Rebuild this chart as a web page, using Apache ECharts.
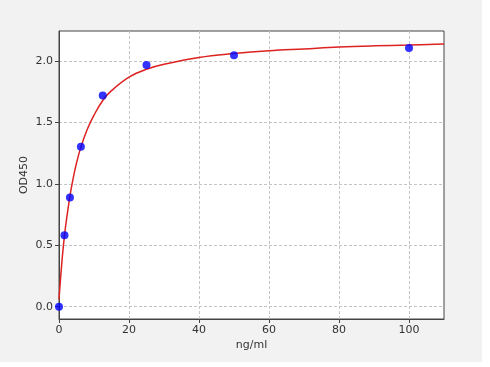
<!DOCTYPE html>
<html>
<head>
<meta charset="utf-8">
<script src="https://cdn.jsdelivr.net/npm/echarts@6/dist/echarts.min.js"></script>
<style>
html,body{margin:0;padding:0;background:#fff;}
#c{width:490px;height:367px;}
</style>
</head>
<body>
<div id="c"></div>
<script>
// measured standards
var concentrations = [0, 1.5625, 3.125, 6.25, 12.5, 25, 50, 100];
var odValues = [0.00, 0.583, 0.889, 1.303, 1.721, 1.97, 2.049, 2.108];
// fitted curve
var curveX = [0, 0.5, 1, 1.5625, 2, 3.125, 4, 5, 6.25, 8, 10, 12.5, 15, 20, 25, 30, 40, 50, 60, 70, 80, 90, 100, 110];
var curveY = [0.06, 0.25, 0.42, 0.58, 0.68, 0.90, 1.04, 1.17, 1.30, 1.44, 1.56, 1.68, 1.76, 1.87, 1.935, 1.975, 2.03, 2.062, 2.085, 2.10, 2.115, 2.125, 2.132, 2.14];
var xTicks = [0, 20, 40, 60, 80, 100];
var yTicks = [0.0, 0.5, 1.0, 1.5, 2.0];
var xName = 'ng/ml';
var yName = 'OD450';

var chart = echarts.init(document.getElementById('c'), null, {renderer: 'canvas'});
var font = 'DejaVu Sans';
var gridColor = '#c4c4c4';
var axisColor = '#444';
chart.setOption({
  animation: false,
  backgroundColor: '#ffffff',
  graphic: [{
    type: 'rect', left: 0, top: 0, z: -10,
    shape: {width: 482, height: 362},
    style: {fill: '#f2f2f2'}
  }],
  grid: {left: 59, right: 46, top: 31, bottom: 48, show: true, backgroundColor: '#ffffff', borderColor: axisColor, borderWidth: 1},
  xAxis: {
    type: 'value', min: 0, max: 110,
    name: xName, nameLocation: 'middle', nameGap: 21, nameMoveOverlap: false,
    nameTextStyle: {fontFamily: font, fontSize: 11, color: '#333'},
    axisLine: {show: true, onZero: false, lineStyle: {color: axisColor}},
    axisTick: {show: true, length: 4, customValues: xTicks, lineStyle: {color: axisColor}},
    axisLabel: {customValues: xTicks, fontFamily: font, fontSize: 11, color: '#333', margin: 6,
      formatter: function(v){return String(v);}},
    splitLine: {show: true, lineStyle: {color: gridColor, type: [3, 2], width: 1}}
  },
  yAxis: {
    type: 'value', min: -0.1, max: 2.246,
    name: yName, nameLocation: 'middle', nameGap: 29, nameRotate: 90, nameMoveOverlap: false,
    nameTextStyle: {fontFamily: font, fontSize: 11, color: '#333'},
    axisLine: {show: true, onZero: false, lineStyle: {color: axisColor}},
    axisTick: {show: true, length: 4, customValues: yTicks, lineStyle: {color: axisColor}},
    axisLabel: {customValues: yTicks, fontFamily: font, fontSize: 11, color: '#333', margin: 6,
      formatter: function(v){return v.toFixed(1);}},
    splitLine: {show: true, lineStyle: {color: gridColor, type: [3, 2], width: 1}}
  },
  series: [{
    type: 'line',
    data: curveX.map(function(x, i){return [x, curveY[i]];}),
    smooth: 0.4,
    showSymbol: false,
    lineStyle: {color: '#dd2222', width: 1.5},
    z: 2
  }, {
    type: 'scatter',
    data: concentrations.map(function(x, i){return [x, odValues[i]];}),
    symbolSize: 8,
    itemStyle: {color: '#0000ff'},
    z: 3
  }]
});
</script>
</body>
</html>
